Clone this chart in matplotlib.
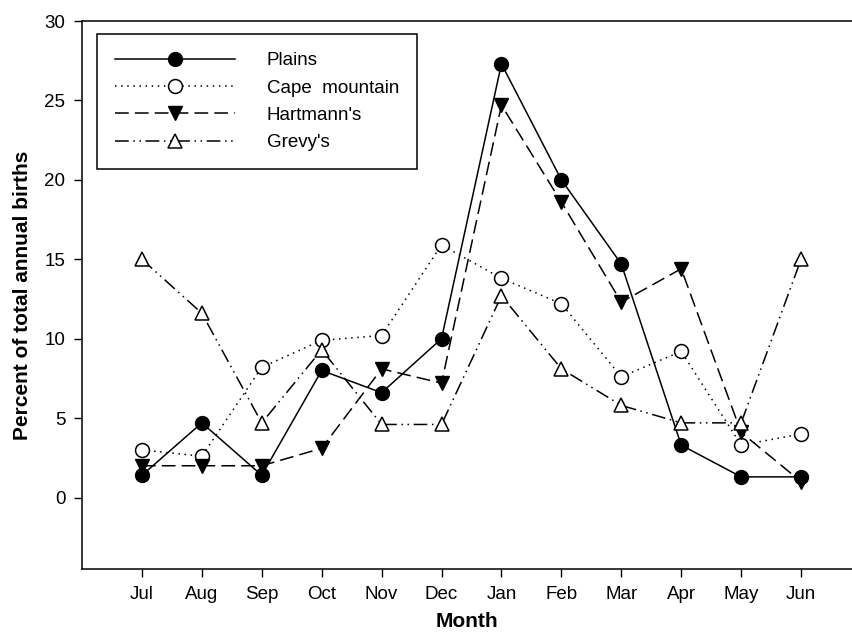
import matplotlib
matplotlib.use("Agg")
import matplotlib.pyplot as plt
import numpy as np

plt.rcParams['font.family'] = ['Liberation Sans', 'DejaVu Sans']

# values (percent of annual births per month)
months = ["Jul", "Aug", "Sep", "Oct", "Nov", "Dec", "Jan", "Feb", "Mar", "Apr", "May", "Jun"]
plains = [1.4, 4.7, 1.4, 8.0, 6.6, 10.0, 27.3, 20.0, 14.7, 3.3, 1.3, 1.3]
cape_mountain = [3.0, 2.6, 8.2, 9.9, 10.2, 15.9, 13.8, 12.2, 7.6, 9.2, 3.3, 4.0]
hartmanns = [2.0, 2.0, 2.0, 3.1, 8.1, 7.2, 24.7, 18.6, 12.3, 14.4, 4.1, 1.0]
grevys = [15.0, 11.6, 4.7, 9.3, 4.6, 4.6, 12.7, 8.1, 5.8, 4.7, 4.7, 15.0]
yticks = [0, 5, 10, 15, 20, 25, 30]

x = np.arange(1, len(months) + 1)

fig = plt.figure(figsize=(8.52, 6.37), dpi=100)
# axes box in pixels: left 82, right 852, top 21, bottom 569
ax = fig.add_axes([82 / 852, (637 - 569) / 637, (852 - 82) / 852, (569 - 21) / 637])

ms = 10
lw = 1.1
ax.plot(x, plains, color='black', linestyle='-', linewidth=lw,
        marker='o', markersize=ms, markerfacecolor='black', label='Plains')
ax.plot(x, cape_mountain, color='black', linestyle=(0, (1, 3)), linewidth=lw,
        marker='o', markersize=ms, markerfacecolor='white', markeredgewidth=1.1,
        label='Cape  mountain')
ax.plot(x, hartmanns, color='black', linestyle=(0, (9, 4)), linewidth=lw,
        marker='v', markersize=ms, markerfacecolor='black', label="Hartmann's")
ax.plot(x, grevys, color='black', linestyle=(0, (9, 3, 1, 3, 1, 3)), linewidth=lw,
        marker='^', markersize=ms, markerfacecolor='white', markeredgewidth=1.1,
        label="Grevy's")

ax.set_xlim(0.0, 12.85)
ax.set_ylim(-4.5, 30)
ax.set_xticks(x)
ax.set_xticklabels(months)
ax.set_yticks(yticks)
ax.tick_params(direction='out', length=6, width=1, labelsize=13.5, pad=6)
ax.spines['right'].set_visible(False)
for s in ['left', 'bottom', 'top']:
    ax.spines[s].set_linewidth(1.1)

ax.set_xlabel("Month", fontsize=15, fontweight='bold', labelpad=7)
ax.set_ylabel("Percent of total annual births", fontsize=15, fontweight='bold', labelpad=9)

leg = ax.legend(loc='upper left', bbox_to_anchor=(0.0195, 0.976), borderaxespad=0,
                fontsize=13.5, handlelength=6.4, handletextpad=1.7, labelspacing=0.55,
                borderpad=0.95, fancybox=False, framealpha=1, edgecolor='black')
leg.get_frame().set_linewidth(1.1)

fig.savefig("out.png", dpi=100)
